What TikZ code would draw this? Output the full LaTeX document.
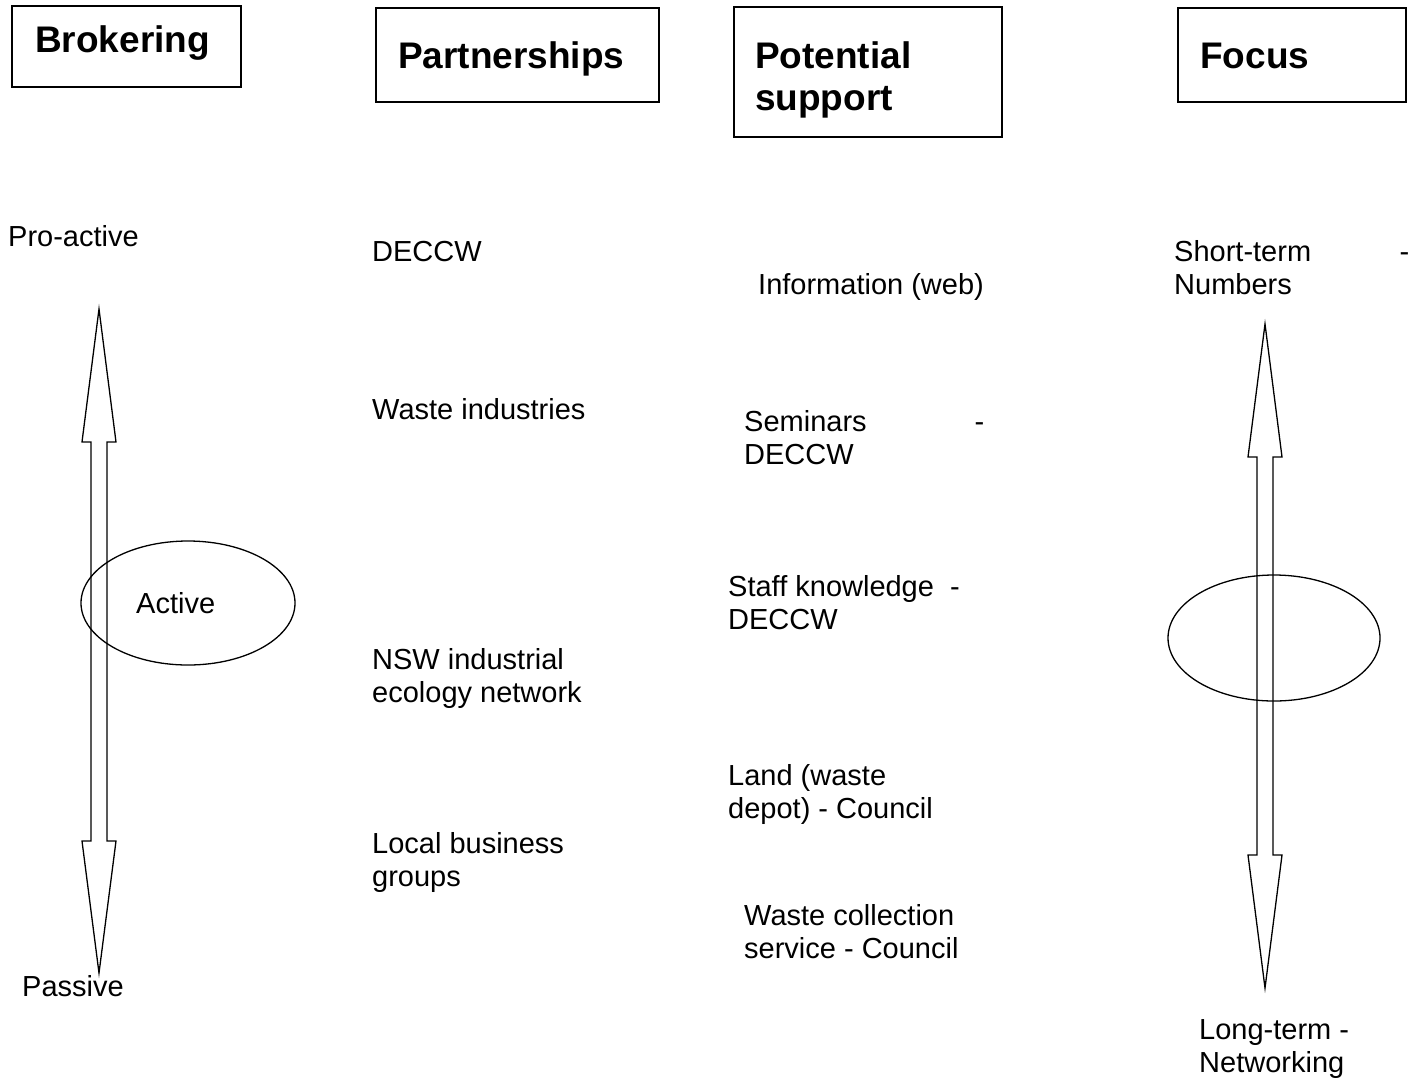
\documentclass[tikz,border=0pt]{standalone}
\usepackage{fontspec}
\setmainfont{Liberation Sans}
\begin{document}
\begin{tikzpicture}[x=1pt,y=-1pt,
  hbox/.style={draw,line width=1.3pt},
  lbl/.style={anchor=base west,inner sep=0pt,font=\fontsize{29}{33}\selectfont},
  head/.style={anchor=base west,inner sep=0pt,font=\fontsize{37}{42}\selectfont\bfseries},
  blockarrow/.style={draw,line width=1.3pt,line join=miter},
  ring/.style={draw,line width=1.3pt}]
\useasboundingbox (0,0) rectangle (1412,1080);
% header boxes
\draw[hbox] (12,6) rectangle (241,87);
\node[head] (hbrok) at (35,52) {Brokering};
\draw[hbox] (376,8) rectangle (659,102);
\node[head] (hpart) at (398,68) {Partnerships};
\draw[hbox] (734,7) rectangle (1002,137);
\node[head] (hpot1) at (755,68) {Potential};
\node[head] (hpot2) at (755,110) {support};
\draw[hbox] (1178,8) rectangle (1406,102);
\node[head] (hfoc) at (1200,68) {Focus};
% left arrow
\draw[blockarrow] (99,309) -- (116,442) -- (107,442) -- (107,841) -- (116,841) -- (99,973)
  -- (82,841) -- (91,841) -- (91,442) -- (82,442) -- cycle;
\draw[ring] (188,603) ellipse [x radius=107,y radius=62];
% right arrow
\draw[blockarrow] (1265,324) -- (1282,457) -- (1273,457) -- (1273,855) -- (1282,855) -- (1265,988)
  -- (1248,855) -- (1257,855) -- (1257,457) -- (1248,457) -- cycle;
\draw[ring] (1274,638) ellipse [x radius=106,y radius=63];
% brokering column
\node[lbl] (pro) at (8,246) {Pro-active};
\node[lbl] (act) at (136,613) {Active};
\node[lbl] (pas) at (22,996) {Passive};
% partnerships column
\node[lbl] (p1) at (372,261) {DECCW};
\node[lbl] (p2) at (372,419) {Waste industries};
\node[lbl] (p3a) at (372,669) {NSW industrial};
\node[lbl] (p3b) at (372,702) {ecology network};
\node[lbl] (p4a) at (372,853) {Local business};
\node[lbl] (p4b) at (372,886) {groups};
% potential support column
\node[lbl] (s1) at (758,294) {Information (web)};
\node[lbl] (s2a) at (744,431) {\hbox to 240pt{Seminars\hfill-}};
\node[lbl] (s2b) at (744,464) {DECCW};
\node[lbl] (s3a) at (728,596) {Staff knowledge\ \ -};
\node[lbl] (s3b) at (728,629) {DECCW};
\node[lbl] (s4a) at (728,785) {Land (waste};
\node[lbl] (s4b) at (728,818) {depot) - Council};
\node[lbl] (s5a) at (744,925) {Waste collection};
\node[lbl] (s5b) at (744,958) {service - Council};
% focus column
\node[lbl] (f1a) at (1174,261) {\hbox to 235pt{Short-term\hfill-}};
\node[lbl] (f1b) at (1174,294) {Numbers};
\node[lbl] (f2a) at (1199,1039) {Long-term -};
\node[lbl] (f2b) at (1199,1072) {Networking};
\end{tikzpicture}
\end{document}
